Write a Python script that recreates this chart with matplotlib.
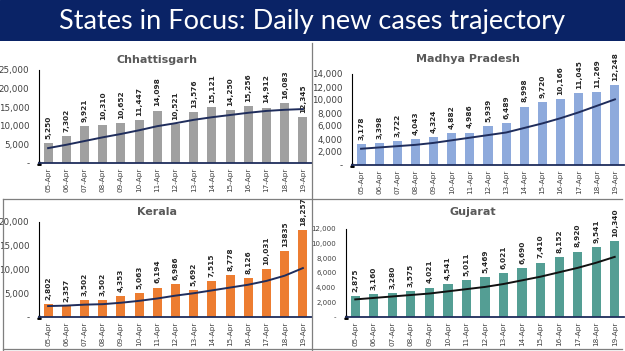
import matplotlib
matplotlib.use("Agg")
import matplotlib.pyplot as plt
from matplotlib.ticker import FuncFormatter
from matplotlib.lines import Line2D

dates = ["05-Apr", "06-Apr", "07-Apr", "08-Apr", "09-Apr", "10-Apr", "11-Apr", "12-Apr",
         "13-Apr", "14-Apr", "15-Apr", "16-Apr", "17-Apr", "18-Apr", "19-Apr"]

chhattisgarh = [5250, 7302, 9921, 10310, 10652, 11447, 14098, 10521, 13576, 15121, 14250, 15256, 14912, 16083, 12345]
chhattisgarh_trend = [4000, 4900, 5900, 6900, 7800, 8800, 9900, 10700, 11600, 12300, 12900, 13500, 14000, 14300, 14500]

madhya_pradesh = [3178, 3398, 3722, 4043, 4324, 4882, 4986, 5939, 6489, 8998, 9720, 10166, 11045, 11269, 12248]
mp_trend = [2500, 2700, 2900, 3100, 3400, 3800, 4200, 4600, 5000, 5700, 6400, 7200, 8100, 9100, 10100]

kerala = [2802, 2357, 3502, 3502, 4353, 5063, 6194, 6986, 5692, 7515, 8778, 8126, 10031, 13835, 18257]
kerala_trend = [2300, 2400, 2600, 2700, 3000, 3400, 3900, 4500, 5000, 5600, 6200, 6800, 7600, 8700, 10300]

gujarat = [2875, 3160, 3280, 3575, 4021, 4541, 5011, 5469, 6021, 6690, 7410, 8152, 8920, 9541, 10340]
gujarat_trend = [2400, 2600, 2800, 3000, 3200, 3500, 3800, 4100, 4500, 5000, 5500, 6100, 6700, 7400, 8200]

kerala_labels = [f"{v:,}" for v in kerala]
kerala_labels[13] = "13835"

W, H = 625, 351
fig = plt.figure(figsize=(W / 100, H / 100), dpi=100)
fig.patch.set_facecolor("white")

def px_axes(x0, y0, x1, y1):
    return fig.add_axes([x0 / W, 1 - y1 / H, (x1 - x0) / W, (y1 - y0) / H])

# Banner
banner = fig.add_axes([0, 1 - 41 / H, 1, 41 / H])
banner.set_axis_off()
banner.add_patch(plt.Rectangle((0, 0), 1, 1, color="#0a2366", transform=banner.transAxes))
banner.text(0.5, 0.47, "States in Focus: Daily new cases trajectory", color="white",
            fontsize=19.5, ha="center", va="center", family="Lato", transform=banner.transAxes)

# Panel borders
def fig_line(xs, ys, **kw):
    fig.add_artist(Line2D([x / W for x in xs], [1 - y / H for y in ys],
                          color="#7f7f7f", lw=0.9, **kw))

fig_line([312, 312], [43, 350])
fig_line([3, 622], [199, 199])
fig_line([3, 3], [199, 350])
fig_line([3, 622], [349, 349])

def fmt(v, pos):
    return "-" if v == 0 else f"{int(v):,}"

def panel(rect, vals, trend, labels, color, line_color, title, ymax, ystep, title_xy, tick_fs=6.3):
    ax = px_axes(*rect)
    x = list(range(len(dates)))
    ax.bar(x, vals, width=0.5, color=color, zorder=2)
    ax.plot(x, trend, color=line_color, lw=1.4, zorder=3)
    ax.set_xlim(-0.5, len(dates) - 0.5)
    ax.set_ylim(0, ymax)
    ax.set_yticks(range(0, ymax + 1, ystep))
    ax.yaxis.set_major_formatter(FuncFormatter(fmt))
    ax.set_xticks(x)
    ax.set_xticklabels(dates, rotation=90, fontsize=5.2, color="#404040")
    ax.tick_params(axis="y", labelsize=tick_fs, labelcolor="#404040", length=0, pad=7)
    ax.tick_params(axis="x", length=0, pad=3)
    for s in ["top", "right"]:
        ax.spines[s].set_visible(False)
    ax.spines["left"].set_color("black")
    ax.spines["left"].set_linewidth(0.8)
    ax.spines["bottom"].set_color("#1f2d5c")
    ax.spines["bottom"].set_linewidth(1.3)
    ax.plot(0, 1.0, marker="^", color="black", markersize=2.5,
            transform=ax.get_yaxis_transform(), clip_on=False)
    for xi, v, lab in zip(x, vals, labels):
        ax.annotate(lab, (xi, v), xytext=(0, 3), textcoords="offset points",
                    rotation=90, ha="center", va="bottom", fontsize=5.3,
                    fontweight="bold", color="#262626", clip_on=False)
    ax.patch.set_alpha(0)
    fig.text(title_xy[0] / W, 1 - title_xy[1] / H, title, ha="center", va="center",
             fontsize=8, fontweight="bold", color="#595959")
    return ax

panel((39, 70, 312, 163), chhattisgarh, chhattisgarh_trend,
      [f"{v:,}" for v in chhattisgarh], "#a0a0a0", "#1f2d5c",
      "Chhattisgarh", 25000, 5000, (157, 60))
panel((352, 74, 624, 165), madhya_pradesh, mp_trend,
      [f"{v:,}" for v in madhya_pradesh], "#8eaadc", "#1f2d5c",
      "Madhya Pradesh", 14000, 2000, (468, 59))
panel((39, 222, 312, 317), kerala, kerala_trend, kerala_labels,
      "#ed7d31", "#1f2d5c", "Kerala", 20000, 5000, (157, 212))
panel((346, 229, 624, 317), gujarat, gujarat_trend,
      [f"{v:,}" for v in gujarat], "#549e94", "#111111",
      "Gujarat", 12000, 2000, (473, 212), tick_fs=5.0)

fig.savefig("out.png", dpi=100)
